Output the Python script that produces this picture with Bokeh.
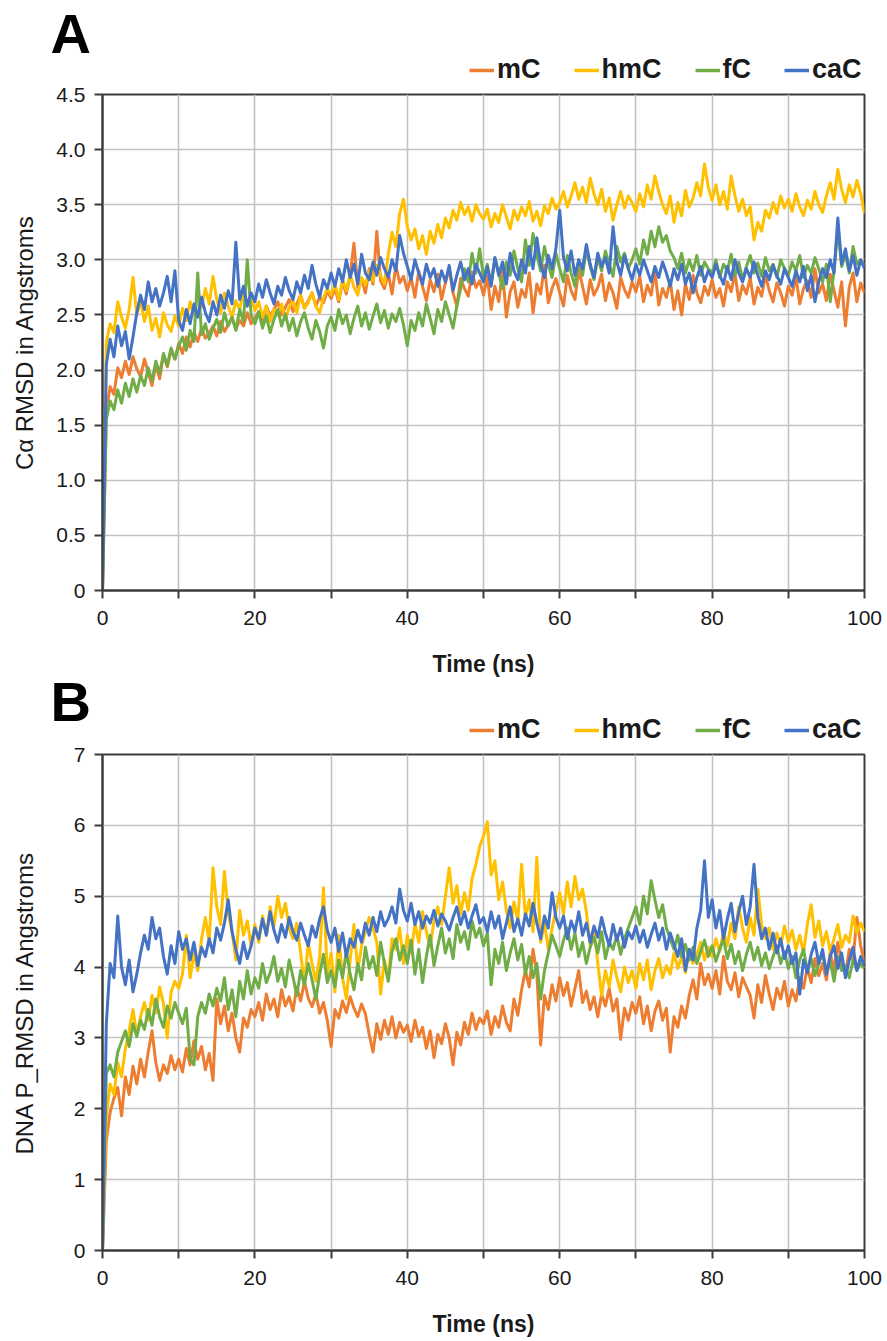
from bokeh.plotting import figure
from bokeh.layouts import column
from bokeh.models import (Legend, LegendItem, FixedTicker, CustomJSTickFormatter,
                          Range1d, Label)
from bokeh.embed import file_html
from bokeh.resources import INLINE

# ---------------- data (time in ns, sampled every 0.5 ns) ----------------
time_ns = [i * 0.5 for i in range(201)]

series_names = ["mC", "hmC", "fC", "caC"]
series_colors = ["#ED7D31", "#FFC000", "#70AD47", "#4472C4"]

# Panel A : C-alpha RMSD (Angstroms)
ca_mC = [0, 1.62, 1.85, 1.78, 2.02, 1.93, 2.08, 1.96, 2.12, 2.01, 1.94, 2.10, 1.98, 1.86, 2.05, 1.92, 2.14, 2.03, 2.18, 2.10,
         2.24, 2.15, 2.30, 2.21, 2.34, 2.26, 2.38, 2.29, 2.33, 2.40, 2.31, 2.44, 2.35, 2.41, 2.48, 2.37, 2.45, 2.40, 2.52, 2.42,
         2.47, 2.53, 2.44, 2.58, 2.49, 2.55, 2.62, 2.50, 2.57, 2.64, 2.53, 2.60, 2.68, 2.56, 2.63, 2.70, 2.58, 2.66, 2.61, 2.72,
         2.65, 2.74, 2.62, 2.80, 2.69, 2.86, 3.15, 2.75, 2.83, 2.70, 2.92, 2.78, 3.26, 2.81, 2.74, 2.88, 2.69, 2.95, 2.79, 2.85,
         2.72, 2.84, 2.66, 2.90, 2.76, 2.63, 2.82, 2.71, 2.87, 2.64, 2.79, 2.92, 2.70, 2.58, 2.83, 2.74, 2.67, 2.89, 2.75, 2.81,
         2.68, 2.85, 2.55, 2.76, 2.62, 2.90, 2.48, 2.71, 2.80, 2.57, 2.73, 2.66, 2.88, 2.52, 2.78, 2.69, 2.95, 2.61, 2.74, 2.83,
         2.70, 2.58, 2.86, 2.72, 2.64, 2.91, 2.76, 2.60, 2.82, 2.68, 2.75, 2.87, 2.63, 2.79, 2.70, 2.56, 2.84, 2.73, 2.66, 2.80,
         2.71, 2.85, 2.62, 2.77, 2.68, 2.90, 2.59, 2.74, 2.66, 2.81, 2.55, 2.72, 2.50, 2.78, 2.64, 2.86, 2.70, 2.61, 2.76, 2.68,
         2.82, 2.66, 2.74, 2.58, 2.80, 2.71, 2.88, 2.63, 2.77, 2.69, 2.84, 2.60, 2.75, 2.67, 2.86, 2.72, 2.62, 2.79, 2.70, 2.58,
         2.76, 2.68, 2.85, 2.60, 2.74, 2.81, 2.66, 2.92, 2.70, 2.78, 2.63, 2.87, 2.72, 2.57, 2.80, 2.40, 2.75, 2.88, 2.62, 2.79,
         2.70]
ca_hmC = [0, 2.25, 2.42, 2.34, 2.62, 2.48, 2.38, 2.55, 2.84, 2.50, 2.63, 2.44, 2.58, 2.36, 2.47, 2.30, 2.52, 2.41, 2.35, 2.49,
          2.40, 2.56, 2.45, 2.62, 2.50, 2.68, 2.57, 2.74, 2.60, 2.85, 2.64, 2.52, 2.70, 2.58, 2.48, 2.63, 2.55, 2.72, 2.60, 2.66,
          2.54, 2.62, 2.48, 2.58, 2.44, 2.55, 2.50, 2.60, 2.46, 2.57, 2.63, 2.52, 2.68, 2.56, 2.61, 2.70, 2.58, 2.52, 2.66, 2.74,
          2.68, 2.78, 2.64, 2.82, 2.72, 2.87, 2.75, 2.68, 2.84, 2.77, 2.90, 2.81, 2.95, 2.86, 2.78, 3.05, 3.25, 3.12, 3.42, 3.55,
          3.30, 3.18, 3.28, 3.10, 3.22, 3.05, 3.26, 3.15, 3.32, 3.20, 3.38, 3.29, 3.45, 3.36, 3.52, 3.41, 3.48, 3.35, 3.50, 3.42,
          3.37, 3.46, 3.30, 3.42, 3.34, 3.50, 3.39, 3.28, 3.45, 3.36, 3.48, 3.40, 3.53, 3.35, 3.44, 3.31, 3.49, 3.42, 3.56, 3.46,
          3.52, 3.62, 3.48, 3.58, 3.70, 3.55, 3.66, 3.52, 3.74, 3.60, 3.50, 3.64, 3.44, 3.56, 3.36, 3.50, 3.62, 3.47, 3.58, 3.52,
          3.44, 3.60, 3.48, 3.68, 3.55, 3.76, 3.62, 3.50, 3.42, 3.58, 3.34, 3.52, 3.40, 3.63, 3.48, 3.56, 3.70, 3.58, 3.87, 3.66,
          3.54, 3.68, 3.50, 3.62, 3.46, 3.76, 3.58, 3.44, 3.55, 3.40, 3.48, 3.18, 3.34, 3.26, 3.45, 3.38, 3.52, 3.42, 3.58, 3.47,
          3.55, 3.44, 3.60, 3.48, 3.40, 3.54, 3.46, 3.62, 3.50, 3.43, 3.58, 3.70, 3.55, 3.82, 3.64, 3.52, 3.68, 3.57, 3.72, 3.60,
          3.42]
ca_fC = [0, 1.55, 1.72, 1.64, 1.82, 1.70, 1.88, 1.76, 1.92, 1.80, 1.95, 1.86, 2.02, 1.90, 2.08, 1.97, 2.15, 2.04, 2.20, 2.10,
         2.22, 2.30, 2.18, 2.36, 2.26, 2.88, 2.32, 2.42, 2.28, 2.38, 2.46, 2.34, 2.52, 2.40, 2.48, 2.36, 2.55, 2.44, 3.00, 2.50,
         2.42, 2.53, 2.38, 2.49, 2.34, 2.46, 2.55, 2.40, 2.51, 2.36, 2.47, 2.31, 2.44, 2.52, 2.38, 2.28, 2.45, 2.35, 2.20, 2.40,
         2.48, 2.36, 2.55, 2.42, 2.50, 2.33, 2.47, 2.58, 2.40, 2.52, 2.37, 2.49, 2.60, 2.43, 2.54, 2.38, 2.51, 2.44, 2.56, 2.41,
         2.22, 2.45, 2.36, 2.52, 2.40, 2.60, 2.47, 2.33, 2.55, 2.44, 2.62, 2.50, 2.38, 2.58, 2.74, 2.92, 2.80, 3.06, 2.88, 3.10,
         2.84, 2.96, 2.78, 3.02, 2.88, 2.74, 2.98, 2.86, 3.08, 2.92, 2.80, 3.18, 2.95, 3.24, 3.04, 2.90, 3.12, 2.96, 2.84, 3.06,
         2.92, 2.80, 3.04, 2.88, 2.76, 3.00, 2.86, 3.10, 2.94, 2.82, 3.02, 2.90, 3.08, 2.96, 2.85, 3.12, 2.98, 3.06, 2.92, 3.00,
         3.10, 2.96, 3.18, 3.05, 3.26, 3.12, 3.30, 3.16, 3.22, 3.08, 3.02, 2.92, 3.06, 2.88, 3.00, 2.90, 3.04, 2.86, 2.98, 2.92,
         2.88, 3.00, 2.84, 2.96, 2.90, 3.05, 2.86, 2.98, 2.82, 2.94, 3.04, 2.88, 2.97, 2.85, 3.02, 2.90, 2.96, 2.84, 3.00, 2.92,
         2.86, 2.98, 2.90, 3.04, 2.84, 2.95, 2.88, 3.02, 2.92, 2.80, 2.96, 2.62, 2.90, 3.28, 2.94, 3.05, 2.88, 3.12, 2.96, 3.00,
         2.95]
ca_caC = [0, 2.05, 2.28, 2.12, 2.40, 2.22, 2.35, 2.10, 2.30, 2.52, 2.68, 2.55, 2.80, 2.62, 2.74, 2.58, 2.70, 2.85, 2.62, 2.90,
          2.45, 2.36, 2.55, 2.42, 2.60, 2.48, 2.66, 2.52, 2.44, 2.62, 2.50, 2.68, 2.56, 2.72, 2.60, 3.16, 2.64, 2.76, 2.58, 2.70,
          2.62, 2.78, 2.66, 2.82, 2.70, 2.60, 2.76, 2.68, 2.84, 2.72, 2.64, 2.80, 2.70, 2.86, 2.74, 2.95, 2.78, 2.66, 2.82, 2.74,
          2.88, 2.76, 2.92, 2.80, 3.00, 2.84, 2.96, 2.78, 3.05, 2.88, 2.82, 2.98, 2.86, 3.02, 2.92, 2.84, 3.00, 2.90, 3.22, 3.06,
          2.94, 2.82, 3.00, 2.88, 2.78, 2.96, 2.84, 2.92, 2.76, 2.90, 2.80, 2.95, 2.72, 2.86, 2.98, 2.82, 2.92, 2.78, 2.96, 2.88,
          2.80, 2.94, 2.76, 3.02, 2.86, 2.98, 2.78, 3.06, 2.90, 2.82, 3.00, 2.88, 3.12, 2.92, 3.20, 2.96, 2.84, 3.04, 2.92, 3.10,
          3.45, 3.02, 2.90, 3.08, 2.86, 3.00, 2.92, 3.14, 2.96, 2.84, 3.06, 2.94, 3.02, 2.88, 3.30, 2.98, 2.86, 3.04, 2.92, 2.82,
          2.96, 2.86, 3.00, 2.90, 2.80, 2.94, 2.84, 2.98, 2.88, 2.76, 2.92, 2.82, 2.96, 2.78, 2.88, 2.70, 2.84, 2.94, 2.80, 2.90,
          2.84, 2.96, 2.86, 2.78, 2.94, 2.82, 3.00, 2.88, 2.80, 2.92, 2.84, 2.98, 2.86, 2.76, 2.90, 2.82, 2.95, 2.86, 2.78, 2.92,
          2.84, 2.76, 2.90, 2.80, 2.94, 2.72, 2.86, 2.62, 2.80, 2.92, 2.84, 3.00, 2.88, 3.38, 2.96, 3.10, 2.90, 3.04, 2.86, 3.00,
          2.92]

# Panel B : DNA phosphorus RMSD (Angstroms)
p_mC = [0, 1.55, 1.95, 2.15, 2.30, 1.90, 2.45, 2.20, 2.60, 2.35, 2.70, 2.45, 2.80, 3.10, 2.65, 2.40, 2.62, 2.50, 2.75, 2.55,
        2.70, 2.52, 2.85, 2.62, 2.96, 2.70, 2.88, 2.55, 2.78, 2.40, 3.55, 3.20, 3.45, 3.10, 3.35, 3.00, 2.80, 3.28, 3.15, 3.40,
        3.30, 3.50, 3.25, 3.62, 3.40, 3.55, 3.30, 3.68, 3.45, 3.58, 3.38, 3.72, 3.52, 3.80, 3.56, 3.44, 3.62, 3.35, 3.50, 3.25,
        2.88, 3.40, 3.28, 3.52, 3.36, 3.58, 3.42, 3.30, 3.48, 3.34, 3.05, 2.80, 3.20, 2.98, 3.25, 3.05, 3.30, 3.00, 3.22, 3.08,
        3.18, 2.95, 3.25, 3.02, 3.15, 2.85, 3.10, 2.72, 3.05, 2.92, 3.20, 3.00, 2.62, 3.08, 2.90, 3.22, 3.05, 3.35, 3.12, 3.28,
        3.20, 3.38, 3.05, 3.30, 3.15, 3.45, 3.22, 3.10, 3.55, 3.32, 3.68, 3.95, 3.72, 4.25, 3.90, 2.90, 3.60, 3.40, 3.75, 3.52,
        3.85, 3.60, 3.78, 3.45, 3.70, 3.95, 3.50, 3.66, 3.40, 3.58, 3.30, 3.62, 3.45, 3.70, 3.38, 3.55, 2.98, 3.42, 3.25, 3.50,
        3.35, 3.58, 3.20, 3.45, 3.10, 3.38, 3.52, 3.25, 3.42, 2.80, 3.30, 3.15, 3.45, 3.28, 3.60, 3.82, 3.55, 4.05, 3.75, 3.90,
        3.70, 3.95, 3.62, 4.15, 3.80, 3.68, 3.92, 3.58, 3.85, 3.72, 3.60, 3.28, 3.75, 3.50, 3.88, 3.62, 3.40, 3.70, 3.55, 3.80,
        3.45, 3.68, 3.52, 3.85, 3.70, 4.00, 3.78, 4.12, 3.88, 4.05, 3.82, 4.20, 3.95, 4.35, 4.05, 3.90, 4.25, 4.10, 4.70, 4.30,
        4.05]
p_hmC = [0, 1.90, 2.35, 2.20, 2.65, 2.45, 2.85, 3.10, 3.40, 3.05, 3.30, 3.50, 3.25, 3.60, 3.35, 3.72, 3.48, 3.00, 3.65, 3.80,
         3.70, 3.90, 4.45, 3.85, 4.20, 3.95, 4.40, 4.70, 4.35, 5.40, 4.85, 4.60, 5.35, 4.75, 4.50, 4.10, 4.80, 4.45, 4.65, 4.30,
         4.60, 4.35, 4.72, 4.45, 4.85, 4.58, 5.00, 4.70, 4.90, 4.55, 4.40, 4.62, 4.20, 3.75, 4.35, 4.05, 3.80, 4.15, 5.12, 3.90,
         4.20, 3.65, 4.45, 3.85, 3.55, 4.10, 4.60, 3.95, 4.30, 4.50, 4.70, 4.55, 4.35, 3.62, 4.10, 3.85, 4.40, 4.25, 4.55, 4.05,
         4.45, 4.20, 4.62, 4.35, 4.78, 4.50, 4.28, 4.65, 4.85, 4.60, 5.00, 5.40, 4.90, 5.15, 4.75, 5.05, 4.80, 5.25, 5.45, 5.70,
         5.85, 6.05, 5.30, 5.50, 4.95, 5.20, 4.80, 4.55, 4.92, 4.65, 5.45, 4.70, 4.95, 4.50, 5.55, 4.35, 4.62, 4.25, 4.55, 4.80,
         5.05, 4.75, 5.20, 4.85, 5.28, 4.95, 5.10, 4.78, 4.30, 4.55, 4.05, 3.60, 3.95, 3.72, 4.10, 3.85, 3.65, 4.00, 3.78, 3.95,
         3.70, 4.05, 3.82, 4.10, 3.68, 3.95, 4.12, 3.85, 4.02, 3.90, 4.20, 3.98, 4.15, 3.92, 4.25, 4.05, 4.18, 4.35, 4.10, 4.28,
         4.15, 4.40, 4.22, 4.50, 4.30, 4.62, 4.40, 4.85, 4.55, 4.35, 4.70, 4.45, 5.10, 4.60, 4.40, 4.55, 4.25, 4.48, 4.30, 4.58,
         4.35, 4.52, 4.25, 4.45, 4.20, 4.60, 4.88, 4.42, 4.65, 4.30, 4.50, 4.22, 4.40, 4.60, 4.28, 4.45, 4.35, 4.72, 4.48, 4.62,
         4.50]
p_fC = [0, 2.50, 2.62, 2.45, 2.80, 2.95, 3.10, 2.88, 3.20, 3.02, 3.25, 3.12, 3.40, 3.18, 3.55, 3.30, 3.15, 3.45, 3.28, 3.50,
        3.35, 3.20, 3.42, 2.70, 2.62, 3.30, 3.50, 3.35, 3.62, 3.45, 3.70, 3.52, 3.85, 3.40, 3.68, 3.30, 3.80, 3.55, 3.95, 3.62,
        3.85, 3.70, 4.05, 3.78, 3.92, 4.15, 3.80, 3.98, 3.72, 4.10, 3.86, 3.60, 3.95, 3.75, 4.05, 3.82, 3.55, 3.90, 4.18, 3.78,
        3.95, 3.72, 4.10, 3.85, 4.22, 3.90, 3.68, 4.05, 3.82, 4.28, 3.98, 4.15, 3.88, 4.35, 4.05, 3.80, 4.22, 4.40, 4.10, 4.30,
        4.05, 4.38, 3.90, 4.25, 3.78, 4.15, 4.45, 4.02, 4.30, 4.55, 4.20, 4.40, 4.12, 4.60, 4.35, 4.50, 4.25, 4.65, 4.42, 4.55,
        4.30, 4.48, 3.75, 4.25, 4.05, 4.35, 3.95, 4.20, 4.40, 4.10, 4.32, 3.90, 4.15, 3.85, 4.05, 3.55, 3.95, 4.20, 4.45, 4.30,
        4.15, 4.38, 4.55, 4.25, 4.48, 4.15, 4.35, 4.05, 4.28, 4.42, 4.20, 4.50, 4.12, 4.35, 4.25, 4.45, 4.18, 4.40, 4.55, 4.70,
        4.85, 4.60, 5.00, 4.75, 5.22, 4.95, 4.70, 4.88, 4.55, 4.40, 4.25, 4.45, 4.15, 4.32, 4.10, 4.28, 4.05, 4.22, 4.38, 4.15,
        4.30, 4.08, 4.25, 4.40, 4.12, 4.32, 4.05, 4.22, 3.95, 4.18, 4.35, 4.10, 4.28, 4.02, 4.20, 3.98, 4.15, 4.30, 4.05, 4.22,
        3.98, 4.15, 3.85, 4.10, 4.25, 3.95, 4.12, 3.88, 4.05, 4.20, 3.92, 4.08, 3.80, 4.15, 3.95, 4.02, 3.85, 4.10, 3.96, 4.05,
        3.98]
p_caC = [0, 3.20, 4.05, 3.85, 4.72, 4.00, 3.75, 4.10, 3.65, 3.90, 4.20, 4.45, 4.25, 4.70, 4.40, 4.55, 4.15, 3.90, 4.30, 4.05,
         4.50, 4.25, 4.40, 4.10, 4.35, 4.02, 4.28, 4.15, 4.40, 4.20, 4.55, 4.38, 4.62, 4.95, 4.50, 4.25, 4.05, 4.35, 4.12, 4.30,
         4.55, 4.40, 4.68, 4.45, 4.78, 4.52, 4.35, 4.60, 4.42, 4.70, 4.50, 4.38, 4.62, 4.45, 4.30, 4.58, 4.42, 4.68, 4.85, 4.52,
         4.35, 4.55, 4.22, 4.48, 4.15, 4.40, 4.28, 4.52, 4.35, 4.62, 4.45, 4.70, 4.50, 4.78, 4.58, 4.68, 4.85, 4.62, 5.10, 4.80,
         4.65, 4.90, 4.60, 4.78, 4.55, 4.72, 4.62, 4.80, 4.58, 4.75, 4.65, 4.52, 4.70, 4.85, 4.60, 4.78, 4.55, 4.72, 4.88, 4.62,
         4.70, 4.50, 4.78, 4.55, 4.72, 4.40, 4.62, 4.85, 4.50, 4.68, 4.45, 4.75, 4.58, 4.90, 4.62, 4.40, 4.72, 4.55, 5.05, 4.70,
         4.55, 4.72, 4.40, 4.65, 4.50, 4.78, 4.45, 4.62, 4.35, 4.58, 4.42, 4.70, 4.48, 4.30, 4.60, 4.38, 4.55, 4.28, 4.50, 4.40,
         4.58, 4.35, 4.52, 4.28, 4.46, 4.62, 4.38, 4.55, 4.25, 4.48, 4.32, 4.15, 4.40, 3.95, 4.25, 4.10, 4.55, 4.80, 5.50, 4.70,
         4.95, 4.55, 4.80, 4.40, 4.68, 4.90, 4.50, 4.78, 5.00, 4.60, 4.85, 5.45, 4.70, 4.40, 4.55, 4.25, 4.48, 4.20, 4.40, 4.12,
         4.30, 4.05, 4.20, 3.62, 4.10, 3.92, 4.18, 4.35, 4.05, 4.25, 3.90, 4.15, 4.30, 3.98, 4.20, 3.85, 4.10, 4.28, 3.95, 4.15,
         4.02]

x_major_ticks = [0, 20, 40, 60, 80, 100]
x_minor_ticks = [10, 30, 50, 70, 90]
x_grid_ticks = [0, 10, 20, 30, 40, 50, 60, 70, 80, 90, 100]
a_y_ticks = [0, 0.5, 1.0, 1.5, 2.0, 2.5, 3.0, 3.5, 4.0, 4.5]
b_y_ticks = [0, 1, 2, 3, 4, 5, 6, 7]

FONT = "Liberation Sans"
TXT = "#1a1a1a"
AX = "#3c3c3c"
FIG_W = 885


def make_header(letter, height, letter_y, legend_y, series):
    """Strip above a panel holding the panel letter and the legend.
    The series are drawn again here (outside its visible y-range) only so the
    legend has real renderers to take its keys from."""
    h = figure(width=FIG_W, height=height, x_range=Range1d(0, 100), y_range=Range1d(50, 60),
               x_axis_type=None, y_axis_type=None, min_border=0, frame_align=False,
               output_backend="svg", toolbar_location=None,
               background_fill_color="white", border_fill_color="white")
    h.outline_line_color = None
    h.xgrid.visible = False
    h.ygrid.visible = False
    h.add_layout(Label(x=50, y=letter_y, x_units="screen", y_units="screen", text=letter,
                       text_font=FONT, text_font_size="56px", text_font_style="bold",
                       text_color="black", text_align="left", text_baseline="alphabetic"))
    keys = [h.line(time_ns, ys, line_color=c, line_width=3.5) for ys, c in zip(series, series_colors)]
    legend = Legend(items=[LegendItem(label=n, renderers=[r]) for n, r in zip(series_names, keys)],
                    orientation="horizontal", location=(469, legend_y),
                    glyph_width=25, glyph_height=20, label_standoff=3, spacing=33,
                    padding=0, margin=0, border_line_alpha=0, background_fill_alpha=0,
                    label_text_font=FONT, label_text_font_size="27px",
                    label_text_font_style="bold", label_text_color=TXT)
    h.add_layout(legend)
    return h


def make_panel(series, ymax, yticks, ytitle, ytitle_standoff, border_bottom, fmt_code):
    p = figure(frame_width=762, frame_height=496,
               x_range=Range1d(0, 100), y_range=Range1d(0, ymax),
               output_backend="svg", toolbar_location=None, title=None,
               min_border_left=102, min_border_right=21,
               min_border_top=10, min_border_bottom=border_bottom,
               background_fill_color="white", border_fill_color="white")
    p.outline_line_color = AX
    p.outline_line_width = 2

    for ys, col in zip(series, series_colors):
        p.line(time_ns, ys, line_color=col, line_width=3.0, line_join="round")

    # grids
    p.xgrid.ticker = FixedTicker(ticks=x_grid_ticks)
    p.ygrid.ticker = FixedTicker(ticks=yticks)
    for g in (p.xgrid, p.ygrid):
        g.grid_line_color = "#c2c2c2"
        g.grid_line_width = 1.6

    # x axis
    xa = p.xaxis[0]
    xa.ticker = FixedTicker(ticks=x_major_ticks, minor_ticks=x_minor_ticks)
    xa.axis_line_color = AX
    xa.axis_line_width = 2
    xa.major_tick_out = 8
    xa.major_tick_in = 0
    xa.minor_tick_out = 8
    xa.minor_tick_in = 0
    xa.major_tick_line_color = AX
    xa.minor_tick_line_color = AX
    xa.major_tick_line_width = 2
    xa.minor_tick_line_width = 2
    xa.major_label_text_font = FONT
    xa.major_label_text_font_size = "21px"
    xa.major_label_text_color = TXT
    xa.major_label_standoff = 12
    xa.axis_label = "Time (ns)"
    xa.axis_label_text_font = FONT
    xa.axis_label_text_font_size = "23px"
    xa.axis_label_text_font_style = "bold"
    xa.axis_label_text_color = TXT
    xa.axis_label_standoff = 23

    # y axis
    ya = p.yaxis[0]
    ya.ticker = FixedTicker(ticks=yticks)
    ya.formatter = CustomJSTickFormatter(code=fmt_code)
    ya.axis_line_color = AX
    ya.axis_line_width = 2
    ya.major_tick_out = 8
    ya.major_tick_in = 0
    ya.minor_tick_out = 0
    ya.minor_tick_in = 0
    ya.major_tick_line_color = AX
    ya.major_tick_line_width = 2
    ya.major_label_text_font = FONT
    ya.major_label_text_font_size = "21px"
    ya.major_label_text_color = TXT
    ya.major_label_standoff = 9
    ya.axis_label = ytitle
    ya.axis_label_text_font = FONT
    ya.axis_label_text_font_size = "24px"
    ya.axis_label_text_font_style = "normal"
    ya.axis_label_text_color = TXT
    ya.axis_label_standoff = ytitle_standoff
    return p


fmt_a = "return tick == 0 ? '0' : tick.toFixed(1);"
fmt_b = "return tick.toFixed(0);"

series_a = [ca_mC, ca_hmC, ca_fC, ca_caC]
series_b = [p_mC, p_hmC, p_fC, p_caC]

hA = make_header("A", 84, 51, -1, series_a)
pA = make_panel(series_a, 4.5, a_y_ticks, "C\u03b1 RMSD in Angstroms", 15, 87, fmt_a)
hB = make_header("B", 65, 43, -1, series_b)
pB = make_panel(series_b, 7, b_y_ticks, "DNA P_RMSD in Angstroms", 33, 88, fmt_b)

layout = column(hA, pA, hB, pB, spacing=0)
open("out.html", "w").write(file_html(layout, INLINE))
